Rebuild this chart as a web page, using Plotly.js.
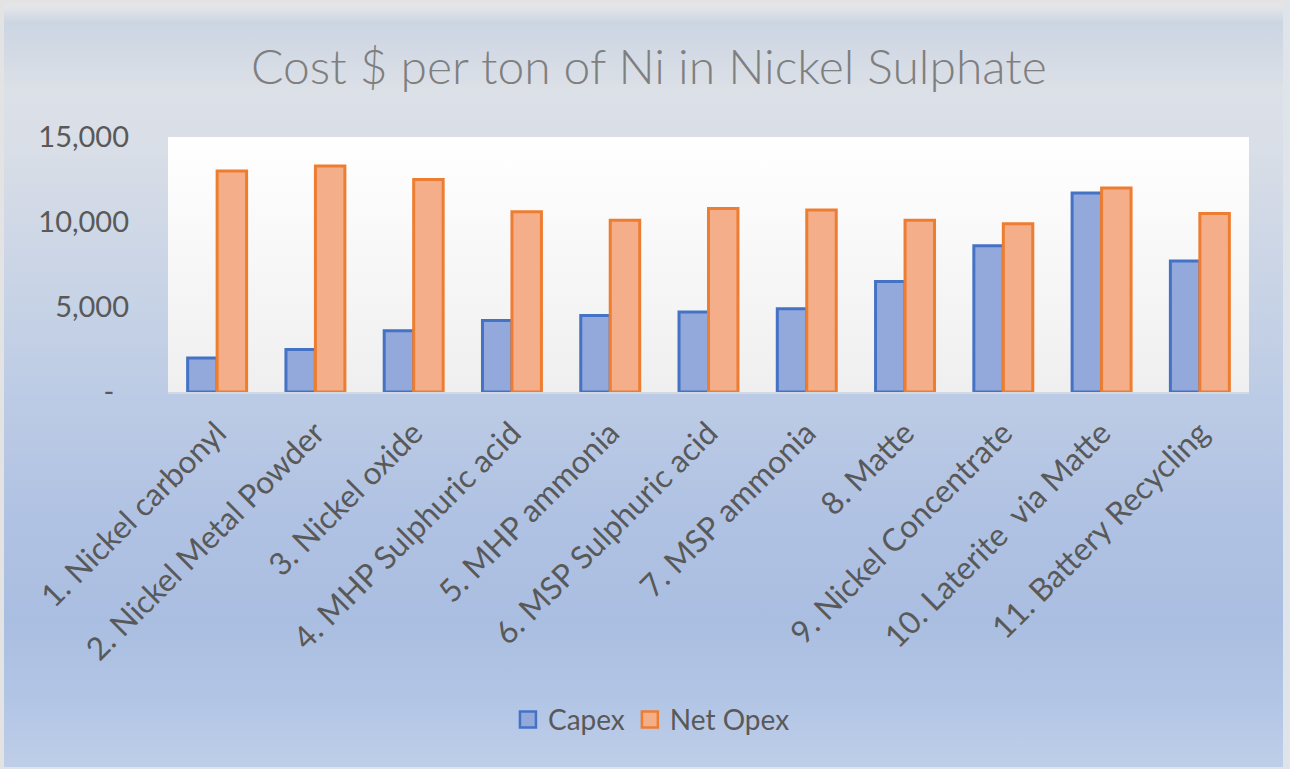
<!DOCTYPE html>
<html>
<head>
<meta charset="utf-8">
<script src="https://cdn.plot.ly/plotly-3.0.1.min.js"></script>
<style>
  html, body { margin: 0; padding: 0; background: #e4e4e4; }
  #chart {
    width: 1290px; height: 769px;
    background: linear-gradient(to bottom,
      #e6e6e8 0px, #e2e4e8 8px, #ccd6e3 22px, #d0d8e4 40px, #dce0e7 90px,
      #dadfe7 140px, #c9d4e6 280px, #bccbe5 400px, #b0c2e3 520px,
      #aabee1 620px, #b2c5e5 700px, #bfcfe9 769px);
    box-shadow: inset 4px 3px 0 0 #e3e3e3, inset -7px -2px 0 0 #dfe3ea;
  }
</style>
</head>
<body>
<div id="chart"></div>
<script>
const categories = [
  "1. Nickel carbonyl",
  "2. Nickel Metal Powder",
  "3. Nickel oxide",
  "4. MHP Sulphuric acid",
  "5. MHP ammonia",
  "6. MSP Sulphuric acid",
  "7. MSP ammonia",
  "8. Matte",
  "9. Nickel Concentrate",
  "10. Laterite\u00a0 via Matte",
  "11. Battery Recycling"
];
const seriesNames = ["Capex", "Net Opex"];
const capex   = [2000, 2500, 3600, 4200, 4500, 4700, 4900, 6500, 8600, 11700, 7700];
const netOpex = [13000, 13300, 12500, 10600, 10100, 10800, 10700, 10100, 9900, 12000, 10500];
const yTickVals = [0, 5000, 10000, 15000];
const yTickText = ["-\u00a0\u00a0", "5,000", "10,000", "15,000"];

const svgBg = "<svg xmlns='http://www.w3.org/2000/svg' width='100' height='100' preserveAspectRatio='none'>" +
  "<defs><linearGradient id='g' x1='0' y1='0' x2='0' y2='1'>" +
  "<stop offset='0' stop-color='#ffffff'/><stop offset='1' stop-color='#efefef'/>" +
  "</linearGradient></defs><rect width='100' height='100' fill='url(#g)'/></svg>";
const bgSrc = "data:image/svg+xml;charset=utf-8," + encodeURIComponent(svgBg);

const font = "Lato, 'Open Sans', sans-serif";
const fills = ["#93a9dc", "#f5ae8a"];
const lines = ["#4472c4", "#ed7d31"];
const values = [capex, netOpex];

const traces = [];
values.forEach((v, i) => {
  traces.push({
    type: "bar", name: seriesNames[i], x: categories, y: v,
    showlegend: false,
    marker: { color: fills[i], line: { color: lines[i], width: 3 } }
  });
});
// legend swatches (no data drawn)
values.forEach((v, i) => {
  traces.push({
    type: "scatter", mode: "markers", name: seriesNames[i],
    x: [categories[0]], y: [null], showlegend: true, hoverinfo: "skip",
    marker: { symbol: "square", size: 16, color: fills[i], line: { color: lines[i], width: 2.5 } }
  });
});

const layout = {
  width: 1290, height: 769,
  margin: { l: 168, r: 41, t: 137, b: 377 },
  paper_bgcolor: "rgba(0,0,0,0)",
  plot_bgcolor: "rgba(0,0,0,0)",
  barmode: "group", bargap: 0.4, bargroupgap: 0,
  title: {
    text: "Cost $ per ton of Ni in Nickel Sulphate",
    font: { family: font, size: 48, color: "#7f7f7f", weight: 300 },
    x: 0.503, xref: "container", xanchor: "center",
    y: 0.913, yref: "container", yanchor: "middle"
  },
  xaxis: {
    type: "category",
    range: [-0.5, categories.length - 0.5],
    tickangle: -45,
    tickfont: { family: font, size: 31.5, color: "#595959" },
    showgrid: false, zeroline: false,
    showline: true, linecolor: "#d3d9e2", linewidth: 2,
    ticks: "", ticklabelstandoff: 8,
    fixedrange: true
  },
  yaxis: {
    range: [0, 15000],
    tickvals: yTickVals, ticktext: yTickText,
    tickfont: { family: font, size: 29, color: "#595959" },
    showgrid: false, zeroline: false, showline: false,
    ticks: "", ticklabelstandoff: 38,
    fixedrange: true
  },
  showlegend: true,
  legend: {
    orientation: "h",
    x: 0.505, xref: "container", xanchor: "center",
    y: 0.064, yref: "container", yanchor: "middle",
    font: { family: font, size: 28, color: "#595959" },
    bgcolor: "rgba(0,0,0,0)", itemwidth: 30
  },
  images: [{
    source: bgSrc, xref: "paper", yref: "paper",
    x: 0, y: 1, sizex: 1, sizey: 1, sizing: "stretch",
    xanchor: "left", yanchor: "top", layer: "below"
  }]
};

Plotly.newPlot("chart", traces, layout, { displayModeBar: false, staticPlot: true });
</script>
</body>
</html>
